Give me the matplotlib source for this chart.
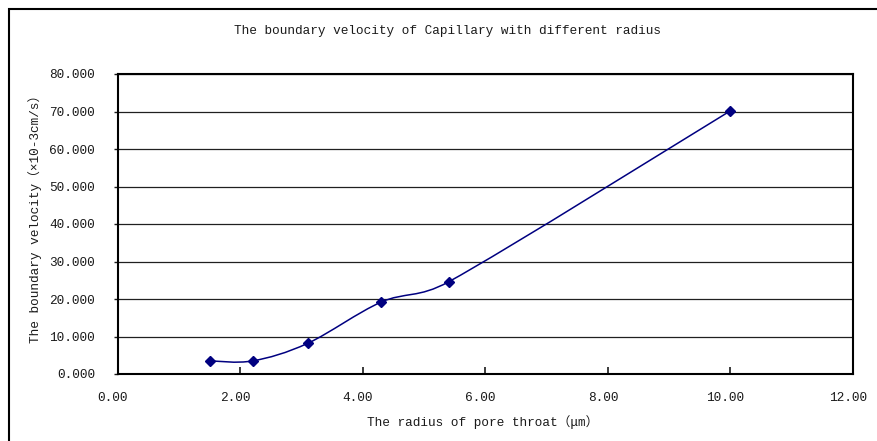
import numpy as np
import matplotlib
matplotlib.use("Agg")
import matplotlib.pyplot as plt
from matplotlib.path import Path
from matplotlib.patches import PathPatch, Rectangle
from matplotlib.transforms import offset_copy

radius = [1.50, 2.20, 3.10, 4.30, 5.40, 10.00]
velocity = [3.5, 3.5, 8.2, 19.2, 24.6, 70.2]
xticks = [0, 2, 4, 6, 8, 10, 12]
yticks = [0, 10, 20, 30, 40, 50, 60, 70, 80]

title = "The boundary velocity of Capillary with different radius"
xlabel = "The radius of pore throat（μm）"
ylabel = "The boundary velocity（×10-3cm/s）"

FAM = ["Liberation Mono", "Noto Sans CJK SC", "DejaVu Sans"]
plt.rcParams['font.family'] = FAM
TXT = "#1a1a1a"
NAVY = "#000080"
FS = 9.2

W, H = 878, 441
fig = plt.figure(figsize=(W / 100, H / 100), dpi=100)
L, R, T, B = 118, 853, 74, 374
ax = fig.add_axes([L / W, (H - B) / H, (R - L) / W, (B - T) / H])
ax.set_xlim(0, 12)
ax.set_ylim(0, 80)

# Excel-like smoothed curve (Bezier), distances measured in pixel space
sx = (R - L) / 12.0
sy = (B - T) / 80.0
P = np.array([[x * sx, y * sy] for x, y in zip(radius, velocity)])
n = len(P)
verts = [tuple(P[0])]
codes = [Path.MOVETO]
for i in range(n - 1):
    p0 = P[i - 1] if i > 0 else P[i]
    p1 = P[i]
    p2 = P[i + 1]
    p3 = P[i + 2] if i + 2 < n else P[i + 1]
    d02 = np.linalg.norm(p2 - p0)
    d12 = np.linalg.norm(p2 - p1)
    d13 = np.linalg.norm(p3 - p1)
    f0 = 1 / 6 if (d02 / 6 < d12 / 2 or d02 == 0) else d12 / (2 * d02)
    f3 = 1 / 6 if (d13 / 6 < d12 / 2 or d13 == 0) else d12 / (2 * d13)
    c1 = p1 + f0 * (p2 - p0)
    c2 = p2 - f3 * (p3 - p1)
    verts += [tuple(c1), tuple(c2), tuple(p2)]
    codes += [Path.CURVE4] * 3
verts = [(vx / sx, vy / sy) for vx, vy in verts]
ax.add_patch(PathPatch(Path(verts, codes), fill=False, edgecolor=NAVY, lw=1.1, zorder=3))
ax.plot(radius, velocity, linestyle="none", marker="D", markersize=5.5,
        color=NAVY, zorder=4, clip_on=False)

ax.set_xticks(xticks)
ax.set_yticks(yticks)
ax.set_xticklabels([f"{v:.2f}" for v in xticks])
ax.set_yticklabels([f"{v:.3f}" for v in yticks])
ax.tick_params(axis="x", direction="in", length=5, width=1.2, pad=13, labelsize=FS, colors=TXT)
ax.tick_params(axis="y", direction="out", length=3, width=1.0, pad=13.5, labelsize=FS, colors=TXT)
for lab in ax.get_xticklabels():
    lab.set_transform(offset_copy(lab.get_transform(), fig=fig, x=-5, y=0, units="dots"))
ax.yaxis.grid(True, color="#202020", lw=0.9)
ax.set_axisbelow(True)
for s in ax.spines.values():
    s.set_linewidth(1.5)
    s.set_color("black")

fig.text(448 / W, 1 - 31 / H, title, ha="center", va="center", fontsize=FS, color=TXT)
fig.text(483 / W, 1 - 422 / H, xlabel, ha="center", va="center", fontsize=FS, color=TXT)
fig.text(35 / W, 1 - 216 / H, ylabel, ha="center", va="center", rotation=90, fontsize=FS, color=TXT)

fig.patches.append(Rectangle((8.5 / W, -0.1), 1.2, (H - 8.5) / H + 0.1, transform=fig.transFigure,
                             fill=False, edgecolor="black", lw=1.5, figure=fig))

fig.savefig("out.png", dpi=100)
